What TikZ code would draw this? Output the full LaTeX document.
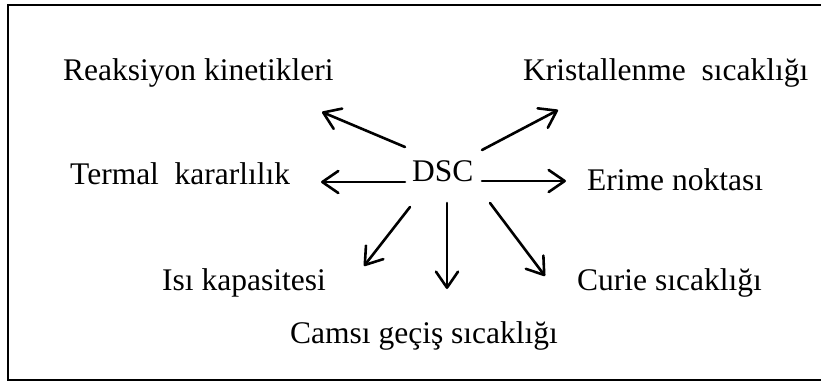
\documentclass[tikz,border=0pt]{standalone}
\usepackage{fontspec}
\setmainfont{Liberation Serif}
\usetikzlibrary{arrows.meta}
\begin{document}
\begin{tikzpicture}[x=1pt,y=-1pt,
  label/.style={inner sep=0pt,anchor=base west,font=\fontsize{31.5}{37}\selectfont},
  ray/.style={line width=2.6pt,line cap=round,-{Straight Barb[length=16pt,width=22pt,line width=2.6pt,round]}},
  frame/.style={line width=2.2pt}]
\useasboundingbox (0,0) rectangle (821,383);
% open frame: top, left and bottom sides, running off the right edge
\coordinate (ftr) at (821,5); \coordinate (ftl) at (8,5);
\coordinate (fbl) at (8,380); \coordinate (fbr) at (821,380);
\draw[frame] (ftr) -- (ftl) -- (fbl) -- (fbr);

% centre and property labels
\node[label] (dsc) at (412,181) {DSC};
\node[label] (reak) at (63,80) {Reaksiyon kinetikleri};
\node[label] (term) at (70,184) {Termal\ \ kararlılık};
\node[label] (krist) at (523,80) {Kristallenme\ \ sıcaklığı};
\node[label] (erime) at (587,190) {Erime noktası};
\node[label] (isi) at (162,290) {Isı kapasitesi};
\node[label] (cams) at (290,343) {Camsı geçiş sıcaklığı};
\node[label] (curie) at (577,290) {Curie sıcaklığı};

% arrow ends
\coordinate (t1) at (405,147); \coordinate (h1) at (322,112);
\coordinate (t2) at (405,182); \coordinate (h2) at (321,182);
\coordinate (t3) at (482,150); \coordinate (h3) at (558,110);
\coordinate (t4) at (482,181); \coordinate (h4) at (566,181);
\coordinate (t5) at (410,207); \coordinate (h5) at (364,266);
\coordinate (t6) at (447,203); \coordinate (h6) at (447,289);
\coordinate (t7) at (490,203); \coordinate (h7) at (545,276);

\draw[ray] (t1) -- (h1);
\draw[ray] (t2) -- (h2);
\draw[ray] (t3) -- (h3);
\draw[ray] (t4) -- (h4);
\draw[ray] (t5) -- (h5);
\draw[ray] (t6) -- (h6);
\draw[ray] (t7) -- (h7);
\end{tikzpicture}
\end{document}
